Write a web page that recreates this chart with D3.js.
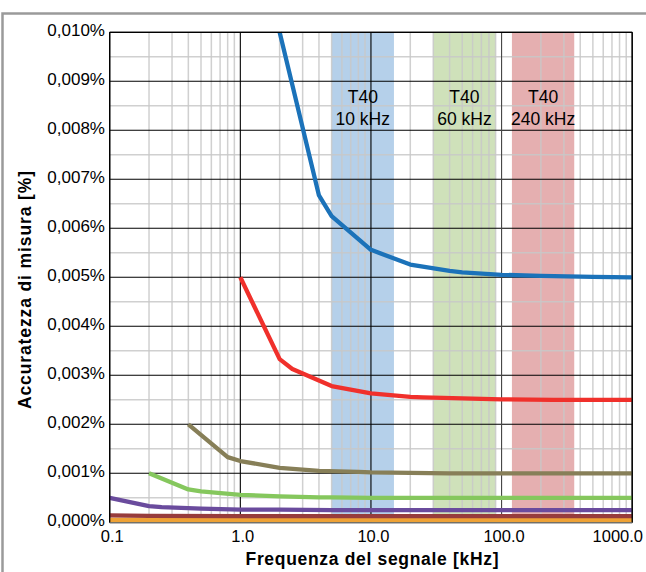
<!DOCTYPE html>
<html><head><meta charset="utf-8">
<script src="https://cdn.jsdelivr.net/npm/d3@7"></script>
<style>html,body{margin:0;padding:0;background:#fff;}svg{display:block;font-family:"Liberation Sans",Arial,sans-serif;}</style>
</head><body>
<svg id="c" width="646" height="572"></svg>
<script>
// ---- data ----
const xTicks = [0.1, 1, 10, 100, 1000];
const xTickLabels = ["0.1", "1.0", "10.0", "100.0", "1000.0"];
const yTicks = [0, 0.001, 0.002, 0.003, 0.004, 0.005, 0.006, 0.007, 0.008, 0.009, 0.010];
const yTickLabels = ["0,000%", "0,001%", "0,002%", "0,003%", "0,004%", "0,005%", "0,006%", "0,007%", "0,008%", "0,009%", "0,010%"];

const bandNames = ["T40", "T40", "T40"];
const bandSub = ["10 kHz", "60 kHz", "240 kHz"];
const bandFrom = [5, 30, 120];
const bandTo = [15, 90, 360];
const bandColors = ["#b5d0ea", "#cfe1ba", "#e5afb0"];

const blueF = [2, 4, 5, 10, 20, 40, 50, 100, 200, 500, 1000];
const blueV = [0.0100, 0.00667, 0.00625, 0.00556, 0.00526, 0.00513, 0.00510, 0.00505, 0.00503, 0.00501, 0.00500];
const redF = [1, 2, 2.5, 5, 10, 20, 25, 50, 100, 250, 500, 1000];
const redV = [0.0050, 0.00333, 0.00313, 0.00278, 0.00263, 0.00256, 0.00255, 0.00253, 0.00251, 0.00250, 0.00250, 0.00250];
const oliveF = [0.4, 0.8, 1, 2, 4, 8, 10, 20, 40, 100, 1000];
const oliveV = [0.0020, 0.00133, 0.00125, 0.00111, 0.00105, 0.00103, 0.00102, 0.00101, 0.00100, 0.00100, 0.00100];
const greenF = [0.2, 0.4, 0.5, 1, 2, 4, 5, 10, 20, 50, 100, 1000];
const greenV = [0.0010, 0.00067, 0.00063, 0.00056, 0.00053, 0.00051, 0.00051, 0.00050, 0.00050, 0.00050, 0.00050, 0.00050];
const purpleF = [0.1, 0.2, 0.25, 0.5, 1, 2, 5, 10, 100, 1000];
const purpleV = [0.00050, 0.00033, 0.00031, 0.00028, 0.00026, 0.00026, 0.00025, 0.00025, 0.00025, 0.00025];
const brownF = [0.1, 0.2, 1, 1000];
const brownV = [0.00014, 0.00013, 0.000125, 0.000125];
const orangeF = [0.1, 1000];
const orangeV = [0.00005, 0.00005];
const yellowF = [0.1, 1000];
const yellowV = [0.00002, 0.00002];

const seriesList = [
  {f: yellowF, v: yellowV, color: "#ffcc22"},
  {f: orangeF, v: orangeV, color: "#eea236"},
  {f: brownF, v: brownV, color: "#973c3c"},
  {f: purpleF, v: purpleV, color: "#6a4b9d"},
  {f: greenF, v: greenV, color: "#85c75d"},
  {f: oliveF, v: oliveV, color: "#877f58"},
  {f: redF, v: redV, color: "#f0302b"},
  {f: blueF, v: blueV, color: "#1b72b9"}
];

// ---- layout ----
const L = 109.7, R = 632.2, T = 32.3, B = 522.3;
const svg = d3.select("#c");
const x = d3.scaleLog().domain([0.1, 1000]).range([L, R]);
const y = d3.scaleLinear().domain([0, 0.010]).range([B, T]);

// outer frame
svg.append("path").attr("d", "M2.5,600 L2.5,13.5 L700,13.5")
  .attr("fill", "none").attr("stroke", "#9a9a9a").attr("stroke-width", 2.5);

// bands
svg.selectAll("rect.band").data(bandFrom).enter().append("rect")
  .attr("x", (d) => x(d)).attr("y", T)
  .attr("width", (d, i) => x(bandTo[i]) - x(d)).attr("height", B - T)
  .attr("fill", (d, i) => bandColors[i]);

// minor grid
const minorX = [];
[0.1, 1, 10, 100].forEach(dec => { for (let k = 2; k <= 9; k++) minorX.push(dec * k); });
svg.selectAll("line.mx").data(minorX).enter().append("line")
  .attr("x1", d => x(d)).attr("x2", d => x(d)).attr("y1", T).attr("y2", B)
  .attr("stroke", "#c8c8c8").attr("stroke-opacity", 0.85).attr("stroke-width", 1.5);
const minorY = yTicks.slice(0, -1).map(d => d + 0.0005);
svg.selectAll("line.my").data(minorY).enter().append("line")
  .attr("x1", L).attr("x2", R).attr("y1", d => y(d)).attr("y2", d => y(d))
  .attr("stroke", "#c8c8c8").attr("stroke-opacity", 0.85).attr("stroke-width", 1.5);

// major grid
svg.selectAll("line.gy").data(yTicks).enter().append("line")
  .attr("x1", L).attr("x2", R).attr("y1", d => y(d)).attr("y2", d => y(d))
  .attr("stroke", "#000").attr("stroke-width", 1.1);
svg.selectAll("line.gx").data(xTicks).enter().append("line")
  .attr("x1", d => x(d)).attr("x2", d => x(d)).attr("y1", T).attr("y2", B)
  .attr("stroke", (d) => d === 100 ? "#444" : "#000").attr("stroke-width", 1.1);

// band labels
bandFrom.forEach((d, i) => {
  const cx = (x(d) + x(bandTo[i])) / 2;
  svg.append("text").attr("x", cx).attr("y", 103).attr("text-anchor", "middle")
    .attr("font-size", 17.5).attr("fill", "#000").text(bandNames[i]);
  svg.append("text").attr("x", cx).attr("y", 125).attr("text-anchor", "middle")
    .attr("font-size", 17.5).attr("fill", "#000").text(bandSub[i]);
});

// series
const line = d3.line().x(d => x(d[0])).y(d => y(d[1]));
svg.append("defs").append("clipPath").attr("id", "pc")
  .append("rect").attr("x", L).attr("y", T - 2).attr("width", R - L + 2).attr("height", B - T + 2);
seriesList.forEach(s => {
  svg.append("path").datum(s.f.map((f, i) => [f, s.v[i]]))
    .attr("d", line).attr("fill", "none").attr("stroke", s.color)
    .attr("stroke-width", 4.3).attr("stroke-linejoin", "round")
    .attr("clip-path", "url(#pc)");
});

// plot borders
svg.append("line").attr("x1", L).attr("x2", L).attr("y1", T).attr("y2", B + 0.5).attr("stroke", "#000").attr("stroke-width", 1.3);
svg.append("line").attr("x1", R).attr("x2", R).attr("y1", T).attr("y2", B + 0.5).attr("stroke", "#000").attr("stroke-width", 1.3);
svg.append("line").attr("x1", L).attr("x2", R).attr("y1", T).attr("y2", T).attr("stroke", "#000").attr("stroke-width", 1.3);
svg.append("line").attr("x1", L).attr("x2", R).attr("y1", B + 0.5).attr("y2", B + 0.5).attr("stroke", "#777").attr("stroke-width", 1.3);

// tick labels
svg.selectAll("text.yt").data(yTicks).enter().append("text")
  .attr("x", 105).attr("y", d => y(d) + 3.5).attr("text-anchor", "end")
  .attr("font-size", 17).attr("fill", "#000").text((d, i) => yTickLabels[i]);
svg.selectAll("text.xt").data(xTicks).enter().append("text")
  .attr("x", (d, i) => i === xTicks.length - 1 ? 643 : x(d) + 2.5).attr("y", 542)
  .attr("text-anchor", (d, i) => i === xTicks.length - 1 ? "end" : "middle")
  .attr("font-size", 16.5).attr("fill", "#000").text((d, i) => xTickLabels[i]);

// axis titles
svg.append("text").attr("x", 372).attr("y", 565).attr("text-anchor", "middle")
  .attr("font-size", 17.5).attr("font-weight", "bold").attr("fill", "#000")
  .attr("textLength", 253).attr("lengthAdjust", "spacing")
  .text("Frequenza del segnale [kHz]");
svg.append("text").attr("transform", "translate(31,290) rotate(-90)")
  .attr("text-anchor", "middle").attr("font-size", 17.5).attr("font-weight", "bold").attr("fill", "#000")
  .attr("textLength", 238).attr("lengthAdjust", "spacing")
  .text("Accuratezza di misura [%]");
</script>
</body></html>
